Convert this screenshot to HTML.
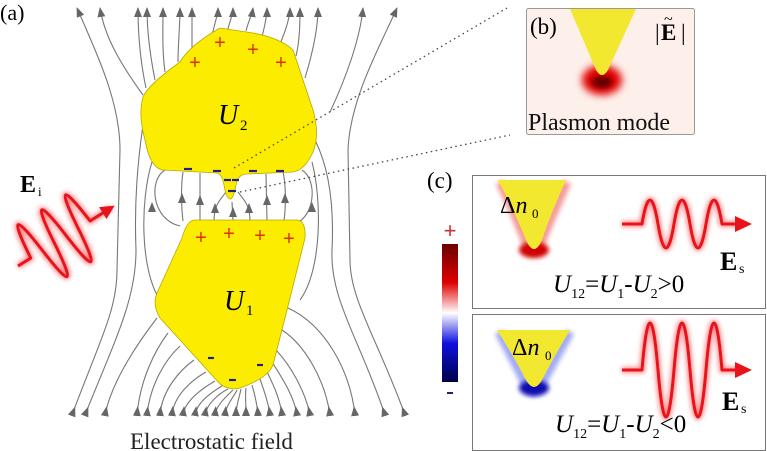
<!DOCTYPE html>
<html><head><meta charset="utf-8"><style>
html,body{margin:0;padding:0;background:#fff;}
svg{display:block;font-family:"Liberation Serif",serif;}
</style></head><body>
<svg width="767" height="451" viewBox="0 0 767 451" xmlns="http://www.w3.org/2000/svg">
<defs>
<marker id="ar" markerWidth="10" markerHeight="8" refX="9" refY="4" orient="auto" markerUnits="userSpaceOnUse"><path d="M0,0 L10,4 L0,8 z" fill="#666"/></marker>
<marker id="as" markerWidth="10" markerHeight="8" refX="1" refY="4" orient="auto" markerUnits="userSpaceOnUse"><path d="M0,0 L10,4 L0,8 z" fill="#666"/></marker>
<filter id="bl" x="-50%" y="-50%" width="200%" height="200%"><feGaussianBlur stdDeviation="4"/></filter>
<filter id="bl2" x="-50%" y="-50%" width="200%" height="200%"><feGaussianBlur stdDeviation="2.5"/></filter>
<linearGradient id="cb" x1="0" y1="0" x2="0" y2="1">
<stop offset="0" stop-color="#6a0000"/><stop offset="0.28" stop-color="#e00000"/><stop offset="0.5" stop-color="#fff"/><stop offset="0.72" stop-color="#1010e0"/><stop offset="1" stop-color="#000048"/></linearGradient>
</defs>
<g fill="none" stroke="#777" stroke-width="1.1">
<path d="M72,415 C100,340 117,310 117,270 L120,150 C120,100 95,50 77,8" marker-start="url(#as)" marker-end="url(#ar)"/>
<path d="M405,415 C378,340 350,300 350,260 L348,150 C350,100 378,50 397,8" marker-start="url(#as)" marker-end="url(#ar)"/>
<path d="M385,415 C360,340 330,300 332,250 C334,210 330,170 315,140" marker-start="url(#as)"/>
<path d="M85,415 C115,340 136,300 136,250 C134,200 138,160 143,125" marker-start="url(#as)"/>
<path d="M143,95 C125,70 105,40 100,8" marker-end="url(#ar)"/>
<path d="M330,112 C345,80 360,40 363,8" marker-end="url(#ar)"/>
<path d="M146,88 C140,60 138,30 138,8" marker-end="url(#ar)"/>
<path d="M155,80 C150,55 147,30 147,8" marker-end="url(#ar)"/>
<path d="M165,72 C162,50 163,30 163,8" marker-end="url(#ar)"/>
<path d="M178,62 C178,45 180,25 180,8" marker-end="url(#ar)"/>
<path d="M192,50 C192,35 192,20 192,8" marker-end="url(#ar)"/>
<path d="M212,36 C214,25 218,15 218,8" marker-end="url(#ar)"/>
<path d="M228,29 C230,20 233,15 233,8" marker-end="url(#ar)"/>
<path d="M246,31 C248,22 252,15 253,8" marker-end="url(#ar)"/>
<path d="M262,37 C264,28 267,18 267,8" marker-end="url(#ar)"/>
<path d="M280,44 C285,32 290,18 290,8" marker-end="url(#ar)"/>
<path d="M296,56 C300,40 300,20 300,8" marker-end="url(#ar)"/>
<path d="M305,78 C312,55 318,30 318,8" marker-end="url(#ar)"/>
<path d="M105,415 C112,380 140,340 157,318" marker-start="url(#as)"/>
<path d="M137,415 C140,380 155,350 168,333" marker-start="url(#as)"/>
<path d="M147,415 C150,385 165,360 180,346" marker-start="url(#as)"/>
<path d="M160,415 C162,390 180,370 194,360" marker-start="url(#as)"/>
<path d="M172,415 C174,395 192,380 206,372" marker-start="url(#as)"/>
<path d="M183,415 C185,400 203,388 215,381" marker-start="url(#as)"/>
<path d="M195,415 C197,402 212,392 222,386" marker-start="url(#as)"/>
<path d="M205,415 C207,403 220,393 228,389" marker-start="url(#as)"/>
<path d="M215,415 C216,405 228,395 233,390" marker-start="url(#as)"/>
<path d="M225,415 C226,405 235,395 237,390" marker-start="url(#as)"/>
<path d="M236,415 C236,405 240,395 241,389" marker-start="url(#as)"/>
<path d="M246,415 C246,405 245,395 246,388" marker-start="url(#as)"/>
<path d="M258,415 C257,402 254,392 252,385" marker-start="url(#as)"/>
<path d="M270,415 C268,400 263,388 260,379" marker-start="url(#as)"/>
<path d="M282,415 C280,398 272,382 267,372" marker-start="url(#as)"/>
<path d="M297,415 C294,395 280,375 272,362" marker-start="url(#as)"/>
<path d="M310,415 C305,390 290,365 276,350" marker-start="url(#as)"/>
<path d="M330,415 C325,380 305,345 282,330" marker-start="url(#as)"/>
<path d="M355,415 C350,370 325,325 288,308" marker-start="url(#as)"/>
<path d="M183,221 C181,205 181,185 183,172"/><path d="M182,196 L182,194" marker-end="url(#ar)"/>
<path d="M200,221 L200,173"/><path d="M200,198 L200,196" marker-end="url(#ar)"/>
<path d="M214,221 C214,205 220,200 226,192"/><path d="M215,206 L215,204" marker-end="url(#ar)"/>
<path d="M233,221 L232,202"/><path d="M233,210 L233,208" marker-end="url(#ar)"/>
<path d="M250,221 C250,205 244,200 238,192"/><path d="M249,206 L249,204" marker-end="url(#ar)"/>
<path d="M267,221 L266,174"/><path d="M267,198 L267,196" marker-end="url(#ar)"/>
<path d="M284,221 C286,205 286,185 283,172"/><path d="M285,196 L285,194" marker-end="url(#ar)"/>
<path d="M180,226 C152,220 148,180 165,170"/><path d="M152,205 L152,203" marker-end="url(#ar)"/>
<path d="M290,226 C316,220 318,180 302,170"/><path d="M312,205 L312,203" marker-end="url(#ar)"/>
<path d="M160,300 C140,270 140,200 152,162"/>
<path d="M300,300 C322,270 322,200 312,162"/>
</g>
<path d="M180,62 Q190,45 220,28 L253,33 Q280,38 293,50 L313,110 Q320,135 313,152 Q305,170 293,172 L247,174 Q238,174 236,185 Q233,200 230,199 Q226,198 224,185 Q222,174 217,173 L163,170 Q150,168 145,140 Q138,115 143,97 Q148,85 180,62 Z" fill="#fced00" stroke="#b8a800" stroke-width="0.8"/>
<path d="M195,220 L298,220 Q306,222 305,238 L287,310 L273,365 Q268,378 240,388 Q230,391 220,384 L160,318 Q152,305 157,293 L182,238 Q187,220 195,220 Z" fill="#fced00" stroke="#b8a800" stroke-width="0.8"/>
<g fill="#e03000" font-family="Liberation Sans,sans-serif" font-size="20" text-anchor="middle">
<text x="220" y="49">+</text><text x="253" y="56">+</text><text x="195" y="69">+</text><text x="281" y="69">+</text>
<text x="201" y="244">+</text><text x="229" y="240">+</text><text x="260" y="242">+</text><text x="289" y="245">+</text>
</g>
<g stroke="#202080" stroke-width="2.2">
<path d="M184,169 H192"/><path d="M213,171 H221"/><path d="M249,171 H257"/><path d="M276,171 H284"/>
<path d="M224,180 H231"/><path d="M232,180 H239"/><path d="M228,191 H236"/>
<path d="M208,358 H214"/><path d="M257,365 H263"/><path d="M229,380 H236"/>
</g>
<text x="218" y="124" font-size="28" font-style="italic">U</text><text x="240" y="130" font-size="15">2</text>
<text x="224" y="310" font-size="28" font-style="italic">U</text><text x="246" y="315" font-size="15">1</text>
<text x="0" y="20" font-size="22">(a)</text>
<text x="130" y="449" font-size="23" fill="#222">Electrostatic field</text>
<text x="20" y="192" font-size="24" font-weight="bold">E</text><text x="38" y="196" font-size="13">i</text>
<g transform="translate(18,266) rotate(-32)">
<path d="M0,0 L15,0 q7,-70 14,0 t14,0 t14,0 t14,0 t14,0 L110,0" fill="none" stroke="#f88" stroke-width="6" filter="url(#bl2)"/>
<path d="M0,0 L15,0 q7,-70 14,0 t14,0 t14,0 t14,0 t14,0 L104,0" fill="none" stroke="#e8141c" stroke-width="3" stroke-linejoin="round"/>
<path d="M100,-7 L114,0 L100,7 z" fill="#e8141c"/>
</g>
<path d="M234,168 L507,8" stroke="#444" stroke-width="1.3" stroke-dasharray="1.5,3.5" fill="none"/>
<path d="M240,192 L510,135" stroke="#444" stroke-width="1.3" stroke-dasharray="1.5,3.5" fill="none"/>
<rect x="526.5" y="8.5" width="168" height="126" rx="2" fill="#fdefea" stroke="#999"/>
<ellipse cx="602" cy="80" rx="20" ry="15" fill="#e00000" filter="url(#bl)"/>
<ellipse cx="602" cy="82" rx="10" ry="6" fill="#600" filter="url(#bl2)"/>
<path d="M570,9 L636,9 L608,70 Q602,80 596,70 Z" fill="#f2e830"/>
<text x="530" y="34" font-size="23">(b)</text>
<text x="655" y="40" font-size="23">|</text><text x="661" y="40" font-size="23" font-weight="bold">E</text><text x="664" y="24" font-size="16">~</text><text x="681" y="40" font-size="23">|</text>
<text x="528" y="130" font-size="24" fill="#111">Plasmon mode</text>
<text x="427" y="188" font-size="23">(c)</text>
<rect x="472.5" y="175.5" width="293" height="133" fill="none" stroke="#777"/>
<rect x="472.5" y="314.5" width="293" height="136" fill="none" stroke="#777"/>
<rect x="442" y="244" width="16" height="138" fill="url(#cb)"/>
<text x="450" y="238" font-size="22" fill="#d03030" text-anchor="middle" font-family="Liberation Sans,sans-serif">+</text>
<path d="M447,393 H453" stroke="#202080" stroke-width="2"/>
<path d="M500,182 Q520,225 526,243 Q533,258 541,243 Q548,225 567,182" fill="none" stroke="#f07070" stroke-width="9" opacity="0.7" filter="url(#bl2)"/>
<ellipse cx="534" cy="250" rx="15" ry="8" fill="#d00000" filter="url(#bl2)"/>
<path d="M498,180 L566,180 Q550,215 542,240 Q534,258 526,240 Q516,215 498,180 Z" fill="#f2e830"/>
<text x="500" y="213" font-size="24">Δ<tspan font-style="italic">n</tspan></text><text x="532" y="218" font-size="13">0</text>
<path d="M622,224 L642,224 q8,-48 16,0 t16,0 t16,0 t16,0 t16,0 L742,224" fill="none" stroke="#f88" stroke-width="6" filter="url(#bl2)"/>
<path d="M622,224 L642,224 q8,-48 16,0 t16,0 t16,0 t16,0 t16,0 L742,224" fill="none" stroke="#e8141c" stroke-width="3" stroke-linejoin="round"/>
<path d="M735,216 L752,224 L735,232 z" fill="#e8141c"/>
<text x="720" y="270" font-size="26" font-weight="bold">E</text><text x="739" y="273" font-size="14">s</text>
<text x="553" y="292" font-size="25"><tspan font-style="italic">U</tspan><tspan font-size="14" dy="6">12</tspan><tspan dy="-6">=</tspan><tspan font-style="italic">U</tspan><tspan font-size="14" dy="6">1</tspan><tspan dy="-6">-</tspan><tspan font-style="italic">U</tspan><tspan font-size="14" dy="6">2</tspan><tspan dy="-6">&gt;0</tspan></text>
<path d="M499,332 Q520,372 526,385 Q533,398 541,385 Q548,372 570,332" fill="none" stroke="#6070f0" stroke-width="9" opacity="0.6" filter="url(#bl2)"/>
<ellipse cx="534" cy="388" rx="15" ry="8" fill="#1010b0" filter="url(#bl2)"/>
<path d="M497,330 L570,330 Q552,360 542,380 Q534,394 526,380 Q516,360 497,330 Z" fill="#f2e830"/>
<text x="512" y="355" font-size="24">Δ<tspan font-style="italic">n</tspan></text><text x="545" y="360" font-size="13">0</text>
<path d="M622,370 L642,370 q8,-94 16,0 t16,0 t16,0 t16,0 t16,0 L742,370" fill="none" stroke="#f88" stroke-width="6" filter="url(#bl2)"/>
<path d="M622,370 L642,370 q8,-94 16,0 t16,0 t16,0 t16,0 t16,0 L742,370" fill="none" stroke="#e8141c" stroke-width="3" stroke-linejoin="round"/>
<path d="M735,362 L752,370 L735,378 z" fill="#e8141c"/>
<text x="722" y="410" font-size="26" font-weight="bold">E</text><text x="741" y="413" font-size="14">s</text>
<text x="555" y="432" font-size="25"><tspan font-style="italic">U</tspan><tspan font-size="14" dy="6">12</tspan><tspan dy="-6">=</tspan><tspan font-style="italic">U</tspan><tspan font-size="14" dy="6">1</tspan><tspan dy="-6">-</tspan><tspan font-style="italic">U</tspan><tspan font-size="14" dy="6">2</tspan><tspan dy="-6">&lt;0</tspan></text>
</svg>
</body></html>
